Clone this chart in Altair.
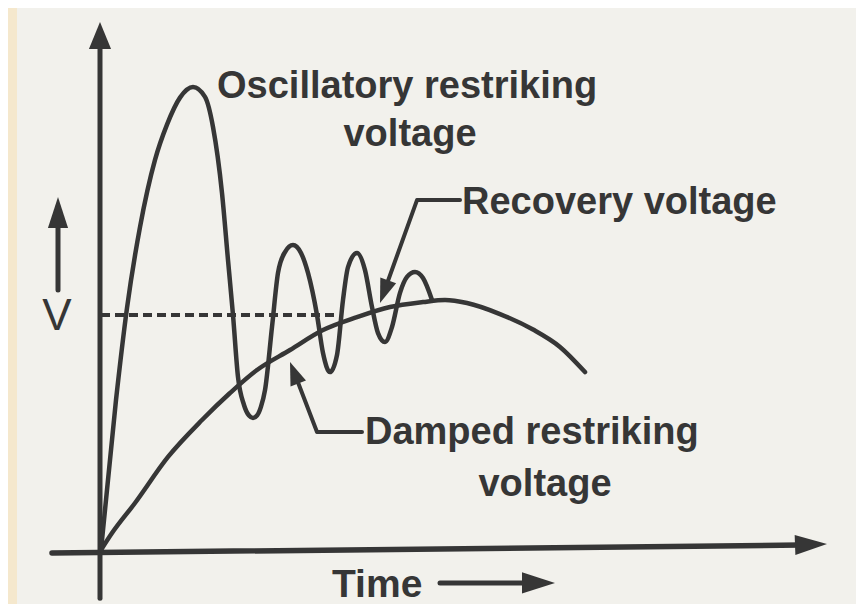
import altair as alt
import pandas as pd

# ---------------- data (time in arbitrary units, voltage in per unit of the recovery voltage) -------------
osc_t = [0.00, 0.30, 0.52, 0.78, 1.08, 1.32, 1.58, 1.84, 2.08, 2.24, 2.42, 2.54, 2.64, 2.74, 2.86,
         2.96, 3.04, 3.12, 3.20, 3.28, 3.42, 3.54, 3.68, 3.84, 4.00, 4.14, 4.32, 4.44, 4.58, 4.72,
         4.84, 4.94, 5.12, 5.28, 5.42, 5.54, 5.68, 5.82, 5.98, 6.12, 6.28, 6.44, 6.62]
osc_v = [0.000, 0.638, 1.030, 1.374, 1.660, 1.810, 1.925, 1.970, 1.928, 1.800, 1.519, 1.234, 1.000,
         0.736, 0.617, 0.572, 0.562, 0.572, 0.610, 0.680, 0.949, 1.179, 1.268, 1.298, 1.264, 1.179,
         1.000, 0.838, 0.757, 0.830, 1.064, 1.204, 1.264, 1.191, 1.034, 0.923, 0.885, 0.949, 1.094,
         1.162, 1.183, 1.157, 1.064]

damp_t = [0.00, 0.22, 0.68, 1.34, 2.02, 2.58, 3.12, 3.78, 4.44, 5.12, 5.78, 6.44, 6.88, 7.32,
          7.98, 8.64, 9.18, 9.68]
damp_v = [0.000, 0.072, 0.200, 0.396, 0.553, 0.668, 0.766, 0.851, 0.936, 0.991, 1.034, 1.055,
          1.064, 1.051, 1.004, 0.938, 0.864, 0.757]

dash_t = [0.00, 4.72]
dash_v = [1.0, 1.0]

# axes of the sketch
yaxis_t = [-0.02, -0.02]
yaxis_v = [-0.205, 2.16]
yaxis_tip = (-0.02, 2.247)
xaxis_t = [-0.98, 13.98]
xaxis_v = [-0.013, 0.021]
xaxis_tip = (14.52, 0.026)

# leaders
rec_t = [7.18, 6.32, 5.66]
rec_v = [1.489, 1.489, 1.098]
rec_tip = (5.58, 1.051)
dmp_t = [5.22, 4.32, 3.87]
dmp_v = [0.502, 0.502, 0.752]
dmp_tip = (3.78, 0.800)

# "Time ->" and "V ^" arrows
time_t = [6.78, 8.58]
time_v = [-0.140, -0.140]
time_tip = (9.08, -0.140)
varr_t = [-0.86, -0.86]
varr_v = [1.106, 1.426]
varr_tip = (-0.86, 1.502)

labels = ["Oscillatory restriking", "voltage", "Recovery voltage", "Damped restriking", "voltage"]
label_t = [2.32, 6.18, 7.22, 5.28, 8.88]
label_v = [1.923, 1.719, 1.430, 0.451, 0.230]
label_align = ["left", "center", "left", "left", "center"]

# ---------------- styling --------------------------------------------------------------------------------
INK = "#363636"
PAPER = "#f2f1ec"
BORDER = "#f5e8cd"
FONT = "Liberation Sans"

xs = alt.Scale(domain=[-1.68, 15.10], nice=False, zero=False)
ys = alt.Scale(domain=[-0.2298, 2.3064], nice=False, zero=False)


def enc():
    return dict(x=alt.X("t:Q", scale=xs, axis=None), y=alt.Y("v:Q", scale=ys, axis=None))


def polyline(ts, vs, width=4.5, interp="linear", dash=None):
    df = pd.DataFrame({"t": ts, "v": vs, "i": list(range(len(ts)))})
    kw = dict(color=INK, strokeWidth=width, interpolate=interp, strokeCap="round", strokeJoin="round")
    if dash is not None:
        kw["strokeDash"] = dash
        kw["strokeCap"] = "butt"
    return alt.Chart(df).mark_line(**kw).encode(order=alt.Order("i:Q"), **enc())


def head(tip, angle, length, ratio=0.7):
    df = pd.DataFrame({"t": [tip[0]], "v": [tip[1]]})
    path = f"M0,0L{-ratio},2L{ratio},2Z"
    return alt.Chart(df).mark_point(shape=path, filled=True, color=INK, opacity=1,
                                    size=length ** 2, angle=angle).encode(**enc())


def text(items, size, weight="bold"):
    layers = []
    for lab, t, v, al in items:
        df = pd.DataFrame({"t": [t], "v": [v], "label": [lab]})
        layers.append(alt.Chart(df).mark_text(align=al, baseline="alphabetic", font=FONT,
                                              fontSize=size, fontWeight=weight, color=INK)
                      .encode(text="label:N", **enc()))
    return layers


layers = [
    polyline(yaxis_t, yaxis_v, width=5),
    head(yaxis_tip, 0, 27, 0.82),
    polyline(xaxis_t, xaxis_v, width=5.5),
    head(xaxis_tip, 88, 32, 0.62),
    polyline(dash_t, dash_v, width=4, dash=[9, 5]),
    polyline(damp_t, damp_v, width=4.5, interp="monotone"),
    polyline(osc_t, osc_v, width=4.5, interp="monotone"),
    polyline(rec_t, rec_v, width=4),
    head(rec_tip, 200, 24, 0.7),
    polyline(dmp_t, dmp_v, width=4),
    head(dmp_tip, 339, 23, 0.72),
    polyline(time_t, time_v, width=5),
    head(time_tip, 90, 33, 0.64),
    polyline(varr_t, varr_v, width=5),
    head(varr_tip, 0, 31, 0.65),
]
layers += text(list(zip(labels, label_t, label_v, label_align)), 38)
layers += text([("Time", 4.62, -0.200, "left")], 39)
layers += text([("V", -0.88, 0.936, "center")], 44, weight="normal")

chart = (
    alt.layer(*layers)
    .properties(width=839, height=596, autosize="none",
                padding={"left": 9, "top": 0, "right": 0, "bottom": 0},
                background=BORDER)
    .configure_view(fill=PAPER, stroke=None)
)

chart.save("out.html", embed_options={"renderer": "svg", "actions": False})
